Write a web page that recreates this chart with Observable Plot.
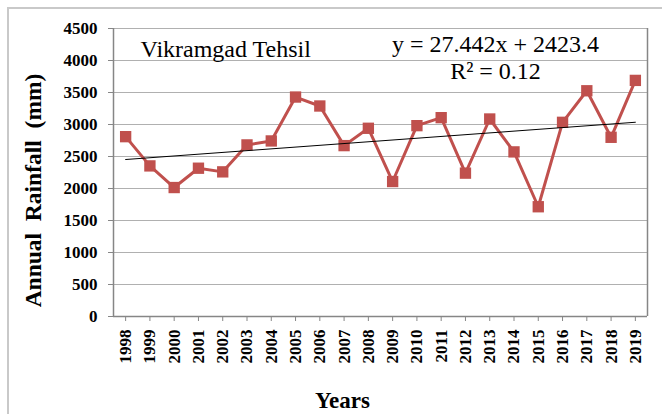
<!DOCTYPE html>
<html>
<head>
<meta charset="utf-8">
<script src="https://cdn.jsdelivr.net/npm/d3@7"></script>
<script src="https://cdn.jsdelivr.net/npm/@observablehq/plot@0.6"></script>
<style>
  html, body { margin: 0; padding: 0; background: white; }
  #wrap { position: relative; width: 662px; height: 414px; overflow: hidden; }
  #wrap svg { display: block; font-family: "Liberation Serif", "Times New Roman", serif; }
  #wrap svg text { font-family: "Liberation Serif", "Times New Roman", serif; }
  #border { position: absolute; left: 7px; top: 7px; width: 720px; height: 520px;
            border: 2px solid #c9c9c9; pointer-events: none; }
</style>
</head>
<body>
<div id="wrap"><div id="border"></div></div>
<script>
const years = [1998,1999,2000,2001,2002,2003,2004,2005,2006,2007,2008,2009,2010,2011,2012,2013,2014,2015,2016,2017,2018,2019];
const rainfall = [2810,2353,2015,2317,2260,2681,2743,3429,3289,2670,2941,2109,2982,3107,2240,3086,2572,1715,3034,3527,2800,3689];
const yTicks = [0,500,1000,1500,2000,2500,3000,3500,4000,4500];
const titleText = "Vikramgad Tehsil";
const equationText = "y = 27.442x + 2423.4";
const r2Text = "R\u00B2 = 0.12";
const yTitle = "Annual\u00A0\u00A0Rainfall\u00A0\u00A0(mm)";
const xTitle = "Years";

const data = years.map((year, i) => ({year, rainfall: rainfall[i]}));
const xDomain = [years[0] - 0.5, years[years.length - 1] + 0.5];
const serif = "Liberation Serif";
const red = "#C0504D";

const chart = Plot.plot({
  width: 662,
  height: 414,
  marginLeft: 113,
  marginRight: 15,
  marginTop: 28,
  marginBottom: 98,
  style: {background: "white", color: "black"},
  x: {type: "linear", domain: xDomain},
  y: {domain: [0, 4500]},
  marks: [
    Plot.ruleY(yTicks.slice(1), {stroke: "#b0b0b0", strokeWidth: 1}),
    Plot.ruleY([0], {stroke: "#868686", strokeWidth: 1.5}),
    Plot.ruleX(xDomain, {stroke: "#868686", strokeWidth: 1.5}),
    Plot.axisY({ticks: yTicks, tickFormat: d => String(d), tickSize: 5, tickPadding: 11, stroke: "#868686", fill: "black",
                fontFamily: serif, fontSize: 17, fontWeight: "bold", label: null}),
    Plot.axisX({ticks: years, tickFormat: d => String(d), tickSize: 5, tickPadding: 8, tickRotate: -90,
                stroke: "#868686", fill: "black", fontFamily: serif, fontSize: 17, fontWeight: "bold", label: null}),
    Plot.line(data, {x: "year", y: "rainfall", stroke: red, strokeWidth: 3}),
    Plot.dot(data, {x: "year", y: "rainfall", symbol: "square", r: 6.4, fill: red, stroke: "none"}),
    Plot.linearRegressionY(data, {x: "year", y: "rainfall", ci: 0, stroke: "black", strokeWidth: 1}),
    Plot.text([titleText], {frameAnchor: "top-left", textAnchor: "start", lineAnchor: "bottom",
                            dx: 27, dy: 28, fontFamily: serif, fontSize: 24, fill: "black"}),
    Plot.text([equationText + "\n" + r2Text], {frameAnchor: "top-right", textAnchor: "middle", lineAnchor: "bottom",
                            dx: -152, dy: 50, fontFamily: serif, fontSize: 24, lineHeight: 1.12, fill: "black"}),
    Plot.text([yTitle], {frameAnchor: "left", rotate: -90, textAnchor: "middle", lineAnchor: "middle",
                         dx: -80, dy: 18, fontFamily: serif, fontSize: 23.5, fontWeight: "bold", fill: "black"}),
    Plot.text([xTitle], {frameAnchor: "bottom", textAnchor: "middle", lineAnchor: "bottom",
                         dx: -38, dy: 91, fontFamily: serif, fontSize: 23, fontWeight: "bold", fill: "black"})
  ]
});
document.getElementById("wrap").prepend(chart);
</script>
</body>
</html>
